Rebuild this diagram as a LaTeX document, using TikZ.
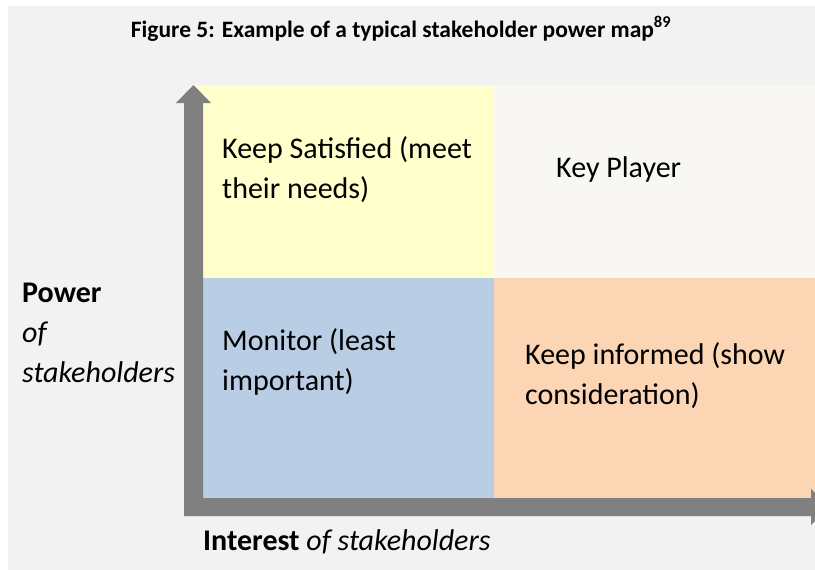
\documentclass[tikz,border=0pt]{standalone}
\usepackage{fontspec}
\setmainfont{Carlito}
\definecolor{bgc}{HTML}{F2F2F2}
\definecolor{qyellow}{HTML}{FFFFCC}
\definecolor{qwhite}{HTML}{F8F7F3}
\definecolor{qblue}{HTML}{B9CDE5}
\definecolor{qorange}{HTML}{FCD5B5}
\definecolor{axisgray}{HTML}{808080}
\tikzset{
  qtext/.style={inner sep=0pt, anchor=base west, align=left, font=\fontsize{30}{40}\selectfont},
}
\begin{document}
\begin{tikzpicture}[x=1pt,y=-1pt]
\useasboundingbox (0,0) rectangle (815,570);
\fill[white] (0,0) rectangle (815,570);
\fill[bgc] (8,6) rectangle (815,570);
% title
\node[inner sep=0pt, anchor=base, font=\fontsize{23.5}{28}\selectfont\bfseries] (title) at (401,37)
  {Figure 5: Example of a typical stakeholder power map\textsuperscript{89}};
% quadrants
\fill[qyellow] (193,85) rectangle (494,278);
\fill[qwhite] (494,85) rectangle (815,278);
\fill[qblue] (193,278) rectangle (494,507);
\fill[qorange] (494,278) rectangle (815,507);
% quadrant texts (base = last line baseline)
\node[qtext] (ks) at (222,198) {Keep Satisfied (meet\\their needs)};
\node[qtext] (kp) at (556,177) {Key Player};
\node[qtext] (mon) at (222,390) {Monitor (least\\important)};
\node[qtext] (ki) at (525,404) {Keep informed (show\\consideration)};
% axes
\fill[axisgray] (184,516) -- (184,103) -- (176,103) -- (193.5,85) -- (211,103) -- (203,103) -- (203,498)
  -- (811,498) -- (811,489) -- (829,507) -- (811,525) -- (811,516) -- cycle;
% axis labels
\node[qtext] (power) at (22,382) {\textbf{Power}\\\textit{of}\\\textit{stakeholders}};
\node[qtext] (interest) at (203,550) {\textbf{Interest} \textit{of stakeholders}};
\end{tikzpicture}
\end{document}
